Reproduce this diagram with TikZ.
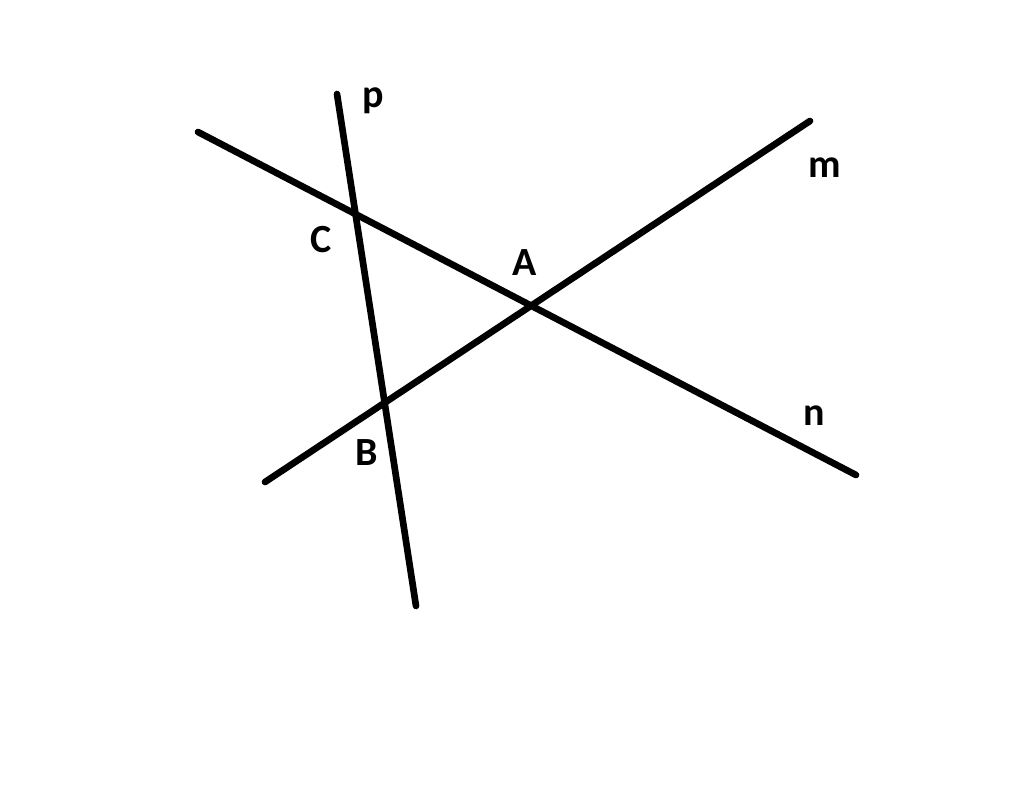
\documentclass[tikz,border=0pt]{standalone}
\usepackage{fontspec}
\setmainfont{Carlito}
\tikzset{every picture/.style={line width=0.75pt}}
\tikzset{
  geoline/.style={line width=5pt, line cap=round},
  ptlabel/.style={inner sep=0pt, font=\fontsize{30}{32}\selectfont\bfseries}
}
\begin{document}
\begin{tikzpicture}[x=0.75pt,y=0.75pt,yscale=-1,xscale=1]
		\useasboundingbox (0,0) rectangle (1024,788);
		
		%Line n
		\coordinate (n1) at (198,132);
		\coordinate (n2) at (856,475);
		%Line m
		\coordinate (m1) at (265,482);
		\coordinate (m2) at (810,121);
		%Line p
		\coordinate (p1) at (337,94);
		\coordinate (p2) at (416,606);
		
		\draw [geoline] (n1) -- (n2) ;
		\draw [geoline] (m1) -- (m2) ;
		\draw [geoline] (p1) -- (p2) ;
		
		\node [ptlabel] (lp) at (373,101) {p};
		\node [ptlabel] (lm) at (825,168) {m};
		\node [ptlabel] (ln) at (814,416) {n};
		\node [ptlabel] (lC) at (321,240) {C};
		\node [ptlabel] (lA) at (525,263) {A};
		\node [ptlabel] (lB) at (367,453) {B};
		
\end{tikzpicture}
\end{document}
